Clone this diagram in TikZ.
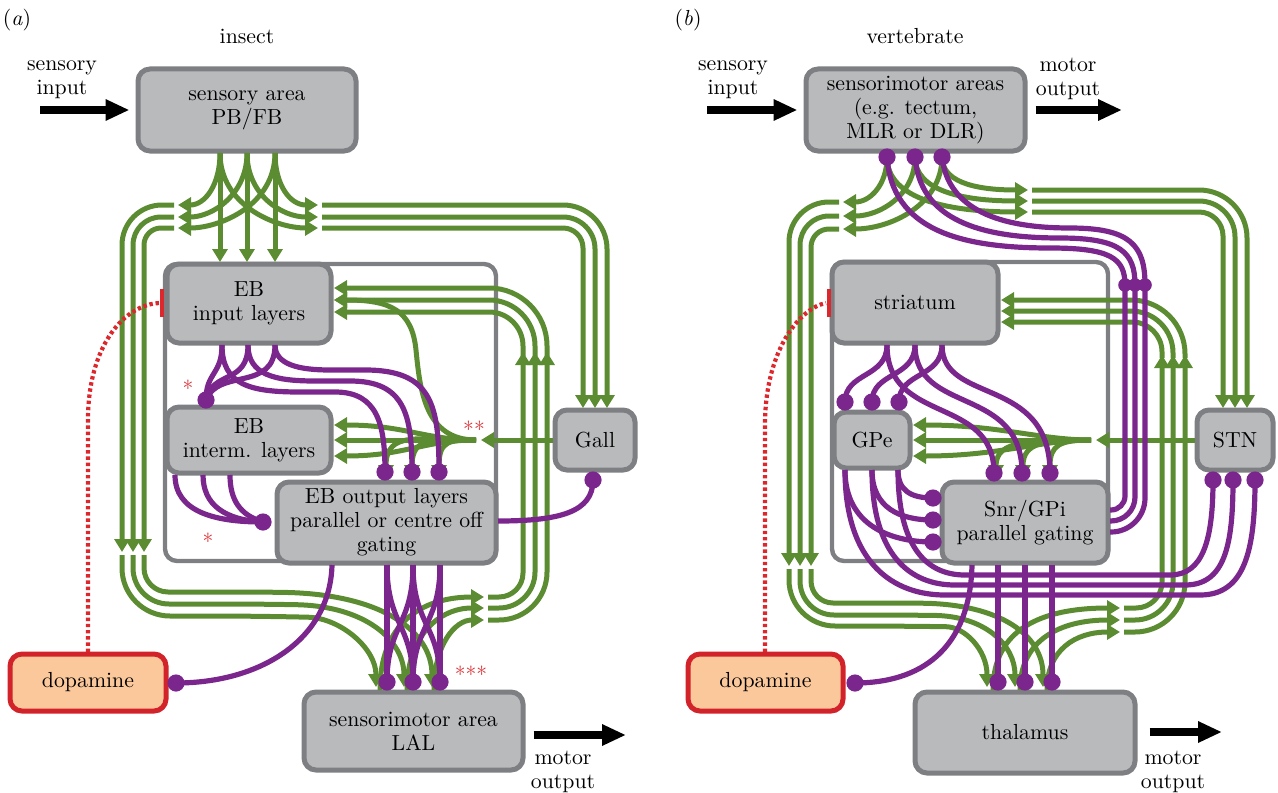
\documentclass[tikz,border=0pt]{standalone}
\usepackage{fontspec}
\usetikzlibrary{arrows.meta,fit}
\definecolor{gr}{RGB}{92,140,50}
\definecolor{pu}{RGB}{122,38,140}
\definecolor{bxf}{RGB}{185,186,188}
\definecolor{bxd}{RGB}{125,127,130}
\definecolor{dpf}{RGB}{251,200,155}
\definecolor{dpd}{RGB}{210,35,42}
\definecolor{rd}{RGB}{220,40,45}
\newcommand\fs{\fontsize{10.9pt}{12pt}\selectfont}
\begin{document}
\begin{tikzpicture}[x=0.5pt,y=-0.5pt,
  box/.style={draw=bxd, fill=bxf, line width=2.5pt, rounded corners=6pt, inner sep=0pt},
  dopa/.style={box, draw=dpd, fill=dpf},
  cont/.style={draw=bxd, line width=2.2pt, rounded corners=6pt, inner sep=0pt},
  gl/.style={draw=gr, line width=2.5pt},
  ga/.style={gl, -{Triangle[length=6.5pt,width=7.5pt]}},
  pl/.style={draw=pu, line width=2.6pt},
  big/.style={line width=4pt, -{Triangle[length=12pt,width=10pt]}},
  lab/.style={font=\fs, align=center, inner sep=0pt},
  ast/.style={text=rd, font=\fontsize{11pt}{11pt}\selectfont, inner sep=0pt},
  inh/.style={draw=rd, line width=2.1pt, dash pattern=on 1.7pt off 1.4pt},
  bar/.style={draw=rd, line width=2pt},
]
\useasboundingbox (0,0) rectangle (1278,792);

% ================= PANEL A =================
\node[cont, fit={(165,264)(496,561)}] (contA) {};
\node[box, fit={(138,69)(356,151)}] (sens) {};
\node[box, fit={(167,264)(331,343)}] (ebin) {};
\node[box, fit={(167,407)(331,473)}] (ebint) {};
\node[box, fit={(277,482)(496,563)}] (ebout) {};
\node[box, fit={(555,410)(635,470)}] (gall) {};
\node[box, fit={(304,692)(523,770)}] (lal) {};
\node[dopa, fit={(10,654)(166,711)}] (dopA) {};
\node[lab] at (sens.center) {sensory area\\PB/FB};
\node[lab] at (ebin.center) {EB\\input layers};
\node[lab] at (ebint.center) {EB\\interm. layers};
\node[lab] at (ebout.center) {EB output layers\\parallel or centre off\\gating};
\node[lab] at (gall.center) {Gall};
\node[lab] at (lal.center) {sensorimotor area\\LAL};
\node[lab] at (dopA.center) {dopamine};

\node[lab] (la) at (17,20) {(\textit{a})};
\node[lab] (tA) at (247,36) {insect};
\node[lab] (siA) at (62,80) {sensory\\input};
\node[lab] (moA) at (563,772) {motor\\output};
\coordinate (inA) at (40,110);
\coordinate (outA) at (626,735);
\draw[big] (inA) -- ([xshift=-3pt]sens.west);
\draw[big] ([xshift=4pt]lal.east |- outA) -- (outA);

% green
\draw[ga] (220,153) -- (220,262);
\draw[ga] (247,153) -- (247,262);
\draw[ga] (275,153) -- (275,262);
\draw[ga] (220,153) .. controls (220,185) and (205,205) .. (178,205);
\draw[ga] (247,153) .. controls (247,195) and (212,217) .. (178,217);
\draw[ga] (275,153) .. controls (275,205) and (220,228) .. (178,228);
\draw[ga] (275,153) .. controls (275,185) and (290,205) .. (318,205);
\draw[ga] (247,153) .. controls (247,195) and (282,217) .. (318,217);
\draw[ga] (220,153) .. controls (220,205) and (275,228) .. (318,228);

\draw[ga, rounded corners=20pt] (174,205) -| (122,552);
\draw[ga, rounded corners=14pt] (174,217) -| (133,552);
\draw[ga, rounded corners=8.5pt] (174,228) -| (144,552);
\draw[ga, rounded corners=12pt] (144,555) |- (260,592) .. controls (380,594) and (432,630) .. (432,687);
\draw[ga, rounded corners=18pt] (133,555) |- (260,604) .. controls (365,606) and (404,640) .. (404,687);
\draw[ga, rounded corners=24pt] (122,555) |- (260,616) .. controls (340,618) and (376,648) .. (376,687);

\draw[ga] (380,690) .. controls (380,625) and (420,597) .. (484,597);
\draw[ga] (407,690) .. controls (407,635) and (440,608) .. (484,608);
\draw[ga] (434,690) .. controls (434,645) and (455,620) .. (484,620);
\draw[ga, rounded corners=12pt] (488,597) -| (523,352);
\draw[ga, rounded corners=18pt] (488,608) -| (535,352);
\draw[ga, rounded corners=24pt] (488,620) -| (547,352);
\draw[ga, rounded corners=17pt] (523,356) |- (334,312);
\draw[ga, rounded corners=23pt] (535,356) |- (334,300);
\draw[ga, rounded corners=29pt] (547,356) |- (334,288);

\draw[ga, rounded corners=22pt] (322,205) -| (607,408);
\draw[ga, rounded corners=16pt] (322,217) -| (595,408);
\draw[ga, rounded corners=10pt] (322,228) -| (583,408);

\coordinate (cA) at (476,440);
\draw[ga] (gall.west) -- (481,440);
\draw[ga] (cA) .. controls (425,440) and (405,425) .. (334,425);
\draw[ga] (cA) -- (334,440);
\draw[ga] (cA) .. controls (425,440) and (405,456) .. (334,456);
\draw[ga] (cA) .. controls (420,440) and (386,430) .. (386,478);
\draw[ga] (cA) .. controls (435,440) and (412,435) .. (412,478);
\draw[ga] (cA) .. controls (450,440) and (439,440) .. (439,478);
\draw[ga] (cA) .. controls (425,440) and (420,390) .. (416,350) .. controls (412,310) and (390,300) .. (334,300);

% red inhibition
\draw[inh] (88,652) -- (88,420) .. controls (88,345) and (125,304) .. (160,303);
\draw[bar] (162,289) -- (162,317);

% purple
\draw[pl] (222,345) .. controls (222,375) and (206,372) .. (206,400);
\draw[pl] (248,345) .. controls (248,385) and (212,370) .. (206,400);
\draw[pl] (275,345) .. controls (275,392) and (218,368) .. (206,400);
\draw[pl] (222,345) .. controls (222,385) and (250,392) .. (300,392) -- (335,392) .. controls (378,392) and (385,425) .. (385,472);
\draw[pl] (248,345) .. controls (248,375) and (275,381) .. (315,381) -- (350,381) .. controls (405,381) and (412,415) .. (412,472);
\draw[pl] (275,345) .. controls (275,365) and (300,370) .. (330,370) -- (365,370) .. controls (432,370) and (439,405) .. (439,472);
\draw[pl] (175,475) .. controls (175,512) and (215,522) .. (263,522);
\draw[pl] (203,475) .. controls (203,505) and (225,520) .. (263,522);
\draw[pl] (230,475) .. controls (230,500) and (240,515) .. (263,522);
\draw[pl] (387,565) -- (387,682);
\draw[pl] (413,565) -- (413,682);
\draw[pl] (440,565) -- (440,682);
\draw[pl] (387,565) .. controls (387,625) and (413,625) .. (413,682);
\draw[pl] (413,565) .. controls (413,625) and (387,625) .. (387,682);
\draw[pl] (413,565) .. controls (413,625) and (440,625) .. (440,682);
\draw[pl] (440,565) .. controls (440,625) and (413,625) .. (413,682);
\draw[pl] (332,565) .. controls (330,640) and (260,683) .. (176,683);
\draw[pl] (498,521) .. controls (560,521) and (593,512) .. (593,480);

\foreach \p in {(206,400),(263,522),(385,472),(412,472),(439,472),(387,682),(413,682),(440,682),(176,683),(593,480)}
  \fill[pu] \p circle[radius=4.3pt];

\node[ast] (s1) at (188,388) {*};
\node[ast] (s2) at (208,541) {*};
\node[ast] (s3) at (474,429) {**};
\node[ast] (s4) at (471,674) {***};

% ================= PANEL B =================
\node[cont, fit={(832,262)(1108,561)}] (contB) {};
\node[box, fit={(806,69)(1025,151)}] (smB) {};
\node[box, fit={(832,262)(998,343)}] (str) {};
\node[box, fit={(834,412)(910,468)}] (gpe) {};
\node[box, fit={(942,482)(1108,563)}] (snr) {};
\node[box, fit={(1197,410)(1273,470)}] (stn) {};
\node[box, fit={(915,692)(1135,773)}] (thal) {};
\node[dopa, fit={(688,654)(843,711)}] (dopB) {};
\node[lab] at (smB.center) {sensorimotor areas\\(e.g. tectum,\\MLR or DLR)};
\node[lab] at (str.center) {striatum};
\node[lab] at (gpe.center) {GPe};
\node[lab] at (snr.center) {Snr/GPi\\parallel gating};
\node[lab] at (stn.center) {STN};
\node[lab] at (thal.center) {thalamus};
\node[lab] at (dopB.center) {dopamine};

\node[lab] (lb) at (688,20) {(\textit{b})};
\node[lab] (tB) at (915,36) {vertebrate};
\node[lab] (siB) at (733,80) {sensory\\input};
\node[lab] (moB1) at (1068,79) {motor\\output};
\node[lab] (moB2) at (1173,772) {motor\\output};
\coordinate (inB) at (707,110);
\coordinate (outB1) at (1122,110);
\coordinate (outB2) at (1222,732);
\draw[big] (inB) -- ([xshift=-3pt]smB.west);
\draw[big] ([xshift=4pt]smB.east) -- (outB1);
\draw[big] ([xshift=6pt]thal.east |- outB2) -- (outB2);

% green
\draw[ga] (887,157) .. controls (887,185) and (870,202) .. (843,202);
\draw[ga] (915,157) .. controls (915,195) and (880,216) .. (843,216);
\draw[ga] (942,157) .. controls (942,205) and (890,229) .. (843,229);
\draw[ga] (942,157) .. controls (942,180) and (970,190) .. (1028,190);
\draw[ga] (915,157) .. controls (915,190) and (960,201) .. (1028,201);
\draw[ga] (887,157) .. controls (887,200) and (950,212) .. (1028,212);

\draw[ga, rounded corners=20pt] (839,202) -| (789,566);
\draw[ga, rounded corners=14.5pt] (839,216) -| (800,566);
\draw[ga, rounded corners=9pt] (839,229) -| (811,566);
\draw[ga, rounded corners=11pt] (811,569) |- (900,603) .. controls (1000,604) and (1043,635) .. (1043,687);
\draw[ga, rounded corners=17pt] (800,569) |- (900,615) .. controls (985,616) and (1015,645) .. (1015,687);
\draw[ga, rounded corners=23pt] (789,569) |- (900,626) .. controls (965,627) and (987,650) .. (987,687);

\draw[ga] (993,690) .. controls (993,630) and (1040,608) .. (1120,608);
\draw[ga] (1020,690) .. controls (1020,640) and (1060,620) .. (1120,620);
\draw[ga] (1047,690) .. controls (1047,650) and (1075,632) .. (1120,632);
\draw[ga, rounded corners=13pt] (1124,608) -| (1162,355);
\draw[ga, rounded corners=19pt] (1124,620) -| (1173,355);
\draw[ga, rounded corners=25pt] (1124,632) -| (1185,355);
\draw[ga, rounded corners=15pt] (1162,358) |- (1001,322);
\draw[ga, rounded corners=21pt] (1173,358) |- (1001,311);
\draw[ga, rounded corners=27pt] (1185,358) |- (1001,300);

\draw[ga, rounded corners=24pt] (1032,190) -| (1247,408);
\draw[ga, rounded corners=18pt] (1032,201) -| (1235,408);
\draw[ga, rounded corners=12pt] (1032,212) -| (1223,408);

\coordinate (cB) at (1091,440);
\draw[ga] (stn.west) -- (1096,440);
\draw[ga] (cB) .. controls (1040,440) and (1000,425) .. (913,425);
\draw[ga] (cB) -- (913,440);
\draw[ga] (cB) .. controls (1040,440) and (1000,456) .. (913,456);
\draw[ga] (cB) .. controls (1030,440) and (996,440) .. (996,478);
\draw[ga] (cB) .. controls (1045,440) and (1023,442) .. (1023,478);
\draw[ga] (cB) .. controls (1060,440) and (1050,445) .. (1050,478);

% red inhibition
\draw[inh] (765,652) -- (765,425) .. controls (765,350) and (800,308) .. (826,303);
\draw[bar] (829,289) -- (829,317);

% purple
\draw[pl] (887,157) .. controls (892,230) and (960,248) .. (1050,248) .. controls (1110,248) and (1125,258) .. (1125,285);
\draw[pl] (915,157) .. controls (920,220) and (980,238) .. (1060,238) .. controls (1120,238) and (1135,252) .. (1135,285);
\draw[pl] (942,157) .. controls (948,210) and (1000,228) .. (1070,228) .. controls (1130,228) and (1145,245) .. (1145,285);
\draw[pl, rounded corners=7pt] (1125,285) |- (1110,510);
\draw[pl, rounded corners=12pt] (1135,285) |- (1110,521);
\draw[pl, rounded corners=17pt] (1145,285) |- (1110,532);

\draw[pl] (887,345) .. controls (887,378) and (845,372) .. (845,402);
\draw[pl] (915,345) .. controls (915,378) and (872,372) .. (872,402);
\draw[pl] (942,345) .. controls (942,378) and (899,372) .. (899,402);
\draw[pl] (887,345) .. controls (887,425) and (994,395) .. (994,473);
\draw[pl] (915,345) .. controls (915,415) and (1022,385) .. (1022,473);
\draw[pl] (942,345) .. controls (942,405) and (1050,375) .. (1050,473);

\draw[pl] (898,470) .. controls (898,490) and (910,498) .. (933,498);
\draw[pl] (872,470) .. controls (872,508) and (900,520) .. (933,520);
\draw[pl] (845,470) .. controls (845,525) and (890,542) .. (933,542);
\draw[pl] (898,470) .. controls (898,545) and (925,575) .. (965,575) -- (1170,575) .. controls (1203,575) and (1213,540) .. (1213,480);
\draw[pl] (872,470) .. controls (872,555) and (910,585) .. (955,585) -- (1185,585) .. controls (1225,585) and (1233,545) .. (1233,480);
\draw[pl] (845,470) .. controls (845,565) and (895,595) .. (945,595) -- (1200,595) .. controls (1245,595) and (1255,550) .. (1255,480);

\draw[pl] (998,565) -- (998,682);
\draw[pl] (1025,565) -- (1025,682);
\draw[pl] (1052,565) -- (1052,682);
\draw[pl] (972,565) .. controls (970,650) and (920,683) .. (855,683);

\foreach \p in {(887,157),(915,157),(942,157),(845,402),(872,402),(899,402),(994,473),(1022,473),(1050,473),(933,498),(933,520),(933,542),(1213,480),(1233,480),(1255,480),(998,682),(1025,682),(1052,682),(855,683)}
  \fill[pu] \p circle[radius=4.3pt];
\foreach \p in {(1125,285),(1135,285),(1145,285)}
  \fill[pu] \p circle[radius=3.4pt];
\end{tikzpicture}
\end{document}
